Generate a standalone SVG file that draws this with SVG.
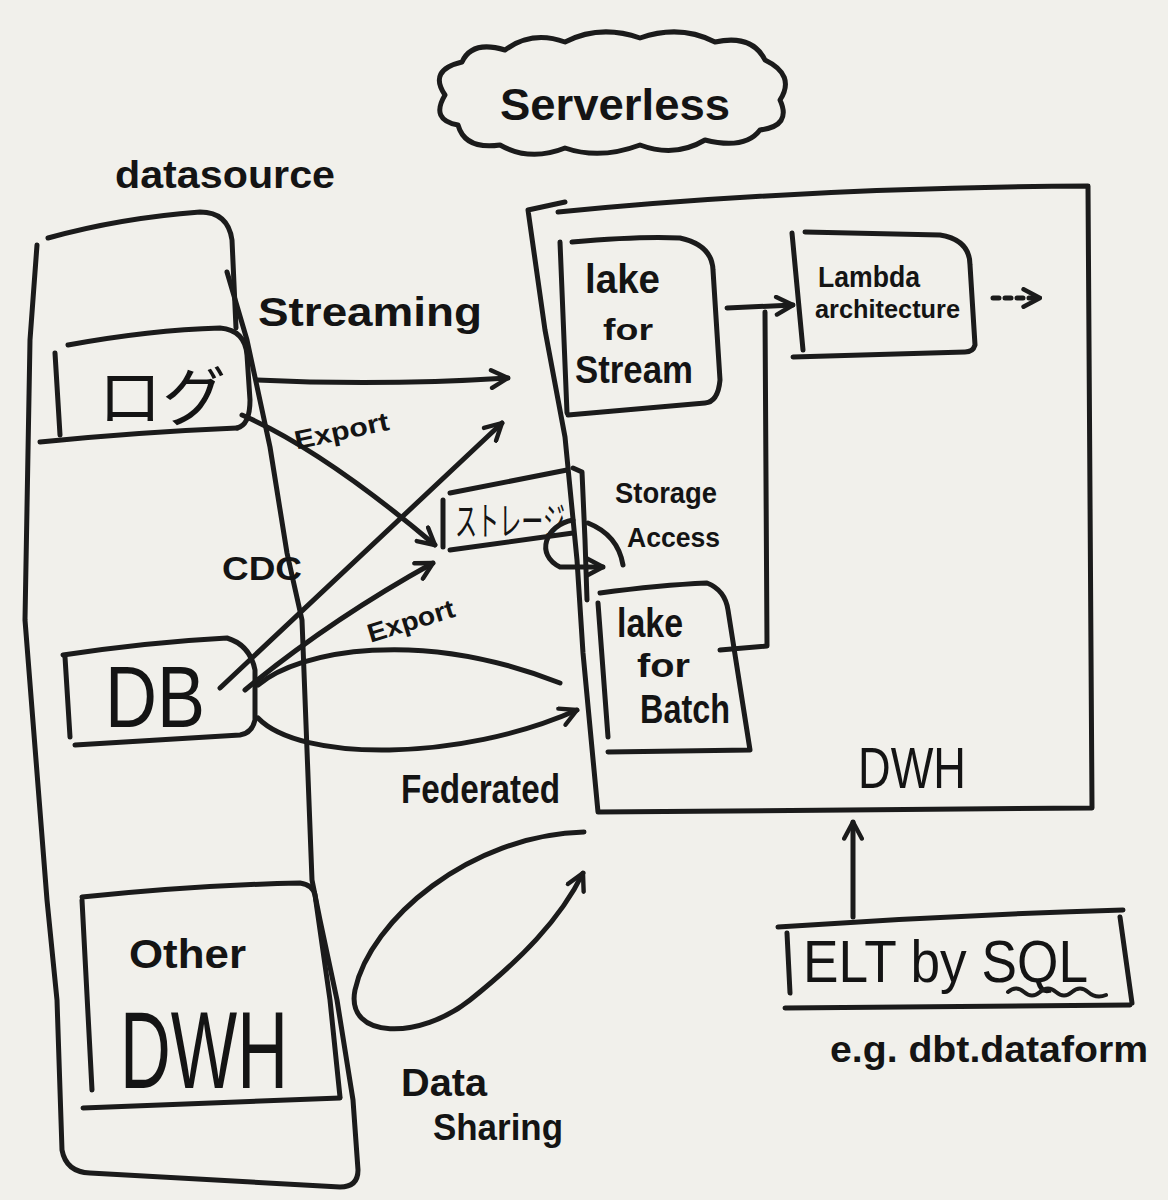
<svg xmlns="http://www.w3.org/2000/svg" width="1168" height="1200" viewBox="0 0 1168 1200">
<style>
.ln{fill:none;stroke:#1b1b1b;stroke-width:5;stroke-linecap:round;stroke-linejoin:round}
.thin{fill:none;stroke:#2a2a2a;stroke-width:3.5;stroke-linecap:round;stroke-linejoin:round}
.t{font-family:"Liberation Sans","DejaVu Sans",sans-serif;fill:#141414;font-weight:bold}
.tn{font-family:"Liberation Sans","DejaVu Sans",sans-serif;fill:#141414;font-weight:normal}
.jp{font-family:"Noto Sans CJK JP","Noto Sans",sans-serif;fill:#141414}
</style>
<defs>
<marker id="arr" viewBox="0 0 20 20" refX="18" refY="10" markerWidth="22" markerHeight="22" markerUnits="userSpaceOnUse" orient="auto">
<path d="M3,2 L18,10 L3,18" fill="none" stroke="#1b1b1b" stroke-width="4" stroke-linecap="round" stroke-linejoin="round"/>
</marker>
</defs>
<rect x="0" y="0" width="1168" height="1200" fill="#f1f0eb"/>

<g id="serverless">
<path class="ln" d="M445,95 Q428,70 462,62 Q472,40 505,50 Q532,30 565,42 Q600,24 640,38 Q680,24 715,42 Q752,34 765,60 Q796,75 780,100 Q792,126 760,130 Q745,150 705,140 Q675,158 640,145 Q600,160 565,148 Q530,162 500,145 Q465,150 458,125 Q430,120 445,95 Z"/>
<text class="t" x="500" y="120" font-size="44" textLength="230" lengthAdjust="spacingAndGlyphs">Serverless</text>
</g>

<g id="datasource">
<text class="t" x="115" y="188" font-size="38" textLength="220" lengthAdjust="spacingAndGlyphs">datasource</text>
<path class="ln" d="M48,238 Q120,218 200,212 Q228,212 232,240 L236,328"/>
<path class="ln" d="M37,245 L30,340 L25,620 L47,900 L57,1000 L62,1150 Q66,1172 90,1173 L340,1187 Q358,1187 358,1170 L353,1100 L337,1000 L320,920 L312,880 L302,620 L287,553 L270,447 L247,340 L227,272"/>
</g>

<g id="log">
<path class="ln" d="M55,353 L60,435"/>
<path class="ln" d="M68,345 Q150,330 220,328 Q245,330 247,355 L250,400 Q250,425 237,428"/>
<path class="ln" d="M40,442 Q140,432 237,428"/>
<text class="jp" x="98" y="420" font-size="64" textLength="128" lengthAdjust="spacingAndGlyphs">ログ</text>
</g>

<g id="db">
<path class="ln" d="M65,657 L70,737"/>
<path class="ln" d="M63,655 Q150,642 227,638 Q250,645 255,670 L255,720 Q252,733 240,735 L75,745"/>
<text class="tn" x="105" y="727" font-size="88" textLength="100" lengthAdjust="spacingAndGlyphs">DB</text>
</g>

<g id="other-dwh">
<path class="ln" d="M82,900 L92,1090"/>
<path class="ln" d="M82,897 Q200,885 300,883 Q313,885 315,895 L330,1000 L340,1097"/>
<path class="ln" d="M83,1108 L340,1098"/>
<text class="t" x="129" y="968" font-size="40" textLength="117" lengthAdjust="spacingAndGlyphs">Other</text>
<text class="tn" transform="translate(120,1088) scale(1,1.4)" x="0" y="0" font-size="78" textLength="168" lengthAdjust="spacingAndGlyphs">DWH</text>
</g>

<g id="storage">
<path class="ln" d="M443,500 L443,547"/>
<path class="ln" d="M450,493 L567,470"/>
<path class="ln" d="M450,550 L573,533"/>
<path class="ln" d="M573,468 L582,472 L585,540 L587,600"/>
<text class="jp" transform="translate(455,535) scale(1,1.7)" x="0" y="0" font-size="23" textLength="110" lengthAdjust="spacingAndGlyphs">ストレージ</text>
</g>

<g id="dwh">
<path class="ln" d="M558,212 Q800,188 1088,186 L1092,808 L598,812 L583,653 L577,560 L565,437 L545,330 L528,210 L565,202"/>
<text class="tn" x="858" y="788" font-size="58" textLength="108" lengthAdjust="spacingAndGlyphs">DWH</text>
</g>

<g id="lake-stream">
<path class="ln" d="M560,242 L567,413"/>
<path class="ln" d="M572,242 Q640,236 680,238 Q712,245 713,270 L720,380 Q718,402 705,403 L568,415"/>
<text class="t" x="585" y="293" font-size="40" textLength="75" lengthAdjust="spacingAndGlyphs">lake</text>
<text class="t" x="603" y="340" font-size="30" textLength="50" lengthAdjust="spacingAndGlyphs">for</text>
<text class="t" x="575" y="383" font-size="38" textLength="118" lengthAdjust="spacingAndGlyphs">Stream</text>
</g>

<g id="lake-batch">
<path class="ln" d="M598,603 L608,737"/>
<path class="ln" d="M600,593 Q660,585 707,583 Q725,590 728,610 L750,750 L608,752"/>
<text class="t" x="617" y="637" font-size="40" textLength="66" lengthAdjust="spacingAndGlyphs">lake</text>
<text class="t" x="637" y="677" font-size="34" textLength="53" lengthAdjust="spacingAndGlyphs">for</text>
<text class="t" x="640" y="723" font-size="40" textLength="90" lengthAdjust="spacingAndGlyphs">Batch</text>
</g>

<g id="lambda">
<path class="ln" d="M792,233 L803,350"/>
<path class="ln" d="M805,232 L940,235 Q970,240 970,265 L975,345 Q973,352 965,352 L793,357"/>
<text class="t" x="818" y="287" font-size="30" textLength="102" lengthAdjust="spacingAndGlyphs">Lambda</text>
<text class="t" x="815" y="318" font-size="26" textLength="145" lengthAdjust="spacingAndGlyphs">architecture</text>
</g>

<g id="elt">
<path class="ln" d="M778,927 Q950,915 1123,910"/>
<path class="ln" d="M787,933 L790,993"/>
<path class="ln" d="M1120,917 L1132,1003"/>
<path class="ln" d="M785,1008 L1130,1005"/>
<text class="tn" x="803" y="982" font-size="60" textLength="285" lengthAdjust="spacingAndGlyphs">ELT by SQL</text>
<path class="ln" style="stroke-width:4" d="M1008,992 q8,-7 16,0 t16,0 t16,0 t16,0 t16,0 t18,3"/>
<text class="t" x="830" y="1062" font-size="37" textLength="318" lengthAdjust="spacingAndGlyphs">e.g. dbt.dataform</text>
</g>

<g id="connectors">
<path class="ln" marker-end="url(#arr)" d="M257,380 Q380,386 508,378"/>
<path class="ln" marker-end="url(#arr)" d="M242,415 C300,440 370,490 435,545"/>
<path class="ln" marker-end="url(#arr)" d="M220,688 L502,423"/>
<path class="ln" marker-end="url(#arr)" d="M245,690 Q330,620 433,563"/>
<path class="ln" d="M258,685 C300,650 420,628 560,683"/>
<path class="ln" marker-end="url(#arr)" d="M258,718 C300,762 460,762 577,710"/>
<path class="ln" marker-end="url(#arr)" d="M584,832 C470,835 370,920 355,990 C345,1040 420,1040 470,1000 C520,960 560,920 583,873"/>
<path class="ln" marker-end="url(#arr)" d="M573,520 C545,525 535,555 560,567 L603,567"/>
<path class="ln" d="M588,523 Q618,535 623,565"/>
<path class="ln" marker-end="url(#arr)" d="M727,308 L793,305"/>
<path class="ln" d="M720,650 L767,646 L765,312"/>
<path class="ln" style="stroke-dasharray:6 6" marker-end="url(#arr)" d="M993,298 L1040,298"/>
<path class="ln" marker-end="url(#arr)" d="M853,917 L853,822"/>
</g>

<g id="labels">
<text class="t" x="258" y="326" font-size="40" textLength="224" lengthAdjust="spacingAndGlyphs">Streaming</text>
<text class="t" x="293" y="440" font-size="26" textLength="96" lengthAdjust="spacingAndGlyphs" transform="rotate(-12 340 428)">Export</text>
<text class="t" x="222" y="580" font-size="34" textLength="80" lengthAdjust="spacingAndGlyphs">CDC</text>
<text class="t" x="615" y="503" font-size="30" textLength="102" lengthAdjust="spacingAndGlyphs">Storage</text>
<text class="t" x="627" y="547" font-size="28" textLength="93" lengthAdjust="spacingAndGlyphs">Access</text>
<text class="t" x="365" y="630" font-size="26" textLength="90" lengthAdjust="spacingAndGlyphs" transform="rotate(-17 410 618)">Export</text>
<text class="t" x="401" y="803" font-size="40" textLength="159" lengthAdjust="spacingAndGlyphs">Federated</text>
<text class="t" x="401" y="1096" font-size="38" textLength="86" lengthAdjust="spacingAndGlyphs">Data</text>
<text class="t" x="433" y="1140" font-size="36" textLength="130" lengthAdjust="spacingAndGlyphs">Sharing</text>
</g>
</svg>
